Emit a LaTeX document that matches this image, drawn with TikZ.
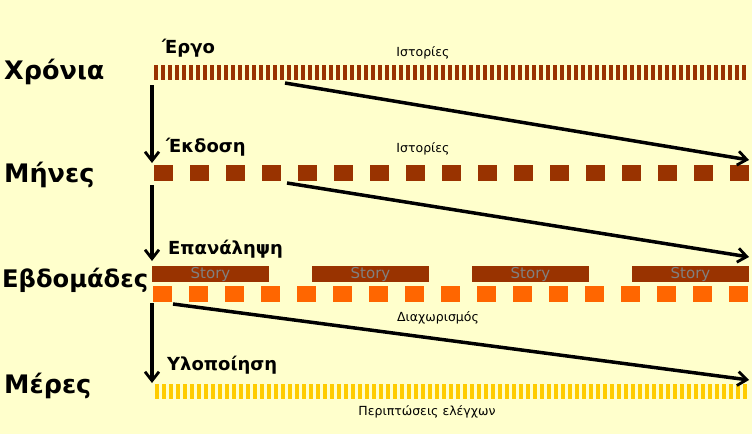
\documentclass[tikz,border=0pt]{standalone}
\usepackage{fontspec}
\setmainfont{DejaVu Sans}
\usetikzlibrary{arrows.meta}
\definecolor{bg}{HTML}{FFFFCC}
\definecolor{brownbar}{HTML}{993300}
\definecolor{orangebar}{HTML}{FF6600}
\definecolor{yellowbar}{HTML}{FFCC00}
\definecolor{storygray}{HTML}{808080}
\tikzset{
  biglabel/.style={anchor=base west, inner sep=0pt, font=\fontsize{25.5}{25.5}\selectfont\bfseries},
  midlabel/.style={anchor=base west, inner sep=0pt, font=\fontsize{18}{18}\selectfont\bfseries},
  smalllabel/.style={anchor=base, inner sep=0pt, font=\fontsize{12.5}{12.5}\selectfont},
  storytext/.style={anchor=base, inner sep=0pt, text=storygray, font=\fontsize{15}{15}\selectfont},
  flow/.style={line width=3.5pt, -{Straight Barb[length=9pt,width=14pt,line width=2.8pt]}}
}
\begin{document}
\begin{tikzpicture}[x=1pt,y=-1pt]
\fill[bg] (0,0) rectangle (752,434);
\useasboundingbox (0,0) rectangle (752,434);

% Years bar (thin stripes)
\foreach \i in {0,...,84} {
  \fill[brownbar] ({154+\i*7},65) rectangle ({157.5+\i*7},80);
}
% Months bar (squares)
\foreach \i in {0,...,16} {
  \fill[brownbar] ({154+\i*36},165) rectangle ({173+\i*36},181);
}
% Weeks: story bars
\foreach \i in {0,...,3} {
  \fill[brownbar] ({152+\i*160},266) rectangle ({269+\i*160},282);
  \node[storytext] (story\i) at ({210.5+\i*160},278) {Story};
}
% Weeks: orange squares
\foreach \i in {0,...,16} {
  \fill[orangebar] ({153+\i*36},286) rectangle ({172+\i*36},302);
}
% Days bar (thin stripes)
\foreach \i in {0,...,84} {
  \fill[yellowbar] ({155+\i*7},384) rectangle ({158.5+\i*7},399);
}

% Left labels
\node[biglabel] (years) at (4,79) {Χρόνια};
\node[biglabel] (months) at (4,182) {Μήνες};
\node[biglabel, font=\fontsize{24.2}{24.2}\selectfont\bfseries] (weeks) at (2,287) {Εβδομάδες};
\node[biglabel] (days) at (4,393) {Μέρες};

% Level labels
\node[midlabel] (ergo) at (162,53) {Έργο};
\node[midlabel] (ekdosi) at (166,152) {Έκδοση};
\node[midlabel] (epanalipsi) at (168,254) {Επανάληψη};
\node[midlabel] (ylopoiisi) at (167,370) {Υλοποίηση};

% Small labels
\node[smalllabel] (ist1) at (423,56) {Ιστορίες};
\node[smalllabel] (ist2) at (423,152) {Ιστορίες};
\node[smalllabel] (diax) at (438,321) {Διαχωρισμός};
\node[smalllabel] (perip) at (427,415) {Περιπτώσεις ελέγχων};

% Arrow end points
\coordinate (v1s) at (152,85);
\coordinate (v1e) at (152,163);
\coordinate (v2s) at (152,185);
\coordinate (v2e) at (152,261);
\coordinate (v3s) at (152,303);
\coordinate (v3e) at (152,383);
\coordinate (d1s) at (285,83);
\coordinate (d1e) at (749,160);
\coordinate (d2s) at (287,183);
\coordinate (d2e) at (749,257);
\coordinate (d3s) at (173,304);
\coordinate (d3e) at (749,380);

\draw[flow] (v1s) -- (v1e);
\draw[flow] (v2s) -- (v2e);
\draw[flow] (v3s) -- (v3e);
\draw[flow] (d1s) -- (d1e);
\draw[flow] (d2s) -- (d2e);
\draw[flow] (d3s) -- (d3e);
\end{tikzpicture}
\end{document}
